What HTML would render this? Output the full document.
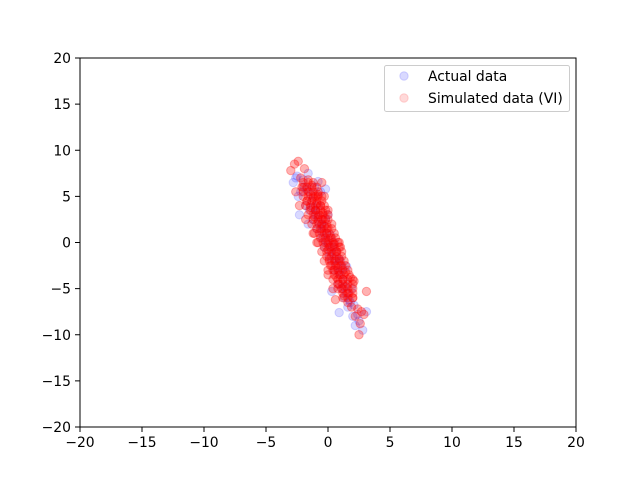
<!DOCTYPE html>
<html><head><meta charset="utf-8"><style>
body{margin:0;background:#fff;}
svg text{font-family:"DejaVu Sans","Liberation Sans",sans-serif;font-size:13.9px;fill:#000;}
</style></head><body>
<svg id="chart" width="640" height="480" viewBox="0 0 640 480" xmlns="http://www.w3.org/2000/svg">
<rect width="640" height="480" fill="#fff"/>
<g id="marks"></g>
<rect x="80" y="58" width="496" height="369" fill="none" stroke="#000" stroke-width="1"/>
<g id="axes"></g>
<g>
<rect x="384.5" y="65.5" width="185" height="46" rx="2" fill="#fff" fill-opacity="0.8" stroke="#ccc"/>
<circle cx="404" cy="76" r="4.2" fill="blue" fill-opacity="0.15" stroke="blue" stroke-opacity="0.15"/>
<text x="428" y="81">Actual data</text>
<circle cx="404" cy="98" r="4.2" fill="red" fill-opacity="0.15" stroke="red" stroke-opacity="0.15"/>
<text x="428" y="103">Simulated data (VI)</text>
</g>
</svg>
<script>
const xTicks=[-20,-15,-10,-5,0,5,10,15,20];
const yTicks=[-20,-15,-10,-5,0,5,10,15,20];
const actualX=[-2.8,-2.5,-2.2,-2.0,-1.8,-1.6,-1.5,-1.4,-1.3,-1.2,-1.1,-1.0,-0.9,-0.8,-0.7,-0.6,-0.5,-0.4,-0.3,-0.2,-0.1,0,0.1,0.2,0.3,0.4,0.5,0.6,0.7,0.8,0.9,1.0,1.1,1.2,1.3,1.4,1.5,1.6,1.8,2.0,2.2,2.5,2.8,3.1,-2.3,-1.9,-1.7,-1.2,-0.8,-0.5,-0.2,0.2,0.6,0.9,1.3,1.7,2.1,0.5,-0.5,0.0,1.0,-1.0,-2.6,2.4,
 -2.4,-0.2,0.9,1.5,-1.6,1.9,0.3,-0.8];
const actualY=[6.5,7.2,5.5,6.8,4.0,7.5,3.5,5.2,4.5,2.5,6.0,3.0,1.5,4.0,2.0,5.5,0.5,1.8,-0.5,2.5,1.0,-0.2,-1.5,0.8,-2.0,-0.5,-3.0,-1.0,-2.5,-4.5,-1.8,-3.5,-5.0,-2.8,-6.0,-4.2,-5.5,-7.0,-6.5,-8.0,-9.0,-8.5,-9.5,-7.5,3.0,6.0,5.8,3.8,2.8,1.2,0.2,-1.0,-1.8,-3.2,-4.8,-6.2,-6.8,0.0,2.0,3.0,-2.0,3.5,7.0,-7.8,
 5.0,5.8,-7.6,-2.6,2.0,-5.0,-5.3,6.6];
const simX=[-3.0,-2.7,-2.4,-2.2,-2.6,-2.0,-1.9,-1.7,-1.6,-1.5,-1.4,-1.3,-1.2,-1.1,-1.0,-1.0,-0.9,-0.8,-0.8,-0.7,-0.6,-0.6,-0.5,-0.4,-0.4,-0.3,-0.2,-0.2,-0.1,0.0,0.0,0.1,0.1,0.2,0.3,0.3,0.4,0.5,0.5,0.6,0.7,0.7,0.8,0.9,0.9,1.0,1.1,1.1,1.2,1.3,1.4,1.5,1.6,1.7,1.9,2.0,2.2,2.4,2.6,2.7,3.1,2.5,2.9,-1.8,1.8,-0.3,0.4,-1.2,1.0,-0.5,0.6,-2.3,2.1,0.0,0.0,-0.9,0.9,
 -2.1,-1.7,-1.3,-0.9,
 -2.0,-1.6,-1.2,-0.8,-0.5,
 -1.8,-1.4,-1.0,-0.6,-0.3,
 -1.6,-1.2,-0.8,-0.4,0.0,
 -1.3,-0.9,-0.5,-0.1,0.3,
 -1.1,-0.7,-0.3,0.1,0.5,
 -0.8,-0.4,0.0,0.4,0.8,
 -0.5,-0.1,0.3,0.7,1.1,
 -0.3,0.1,0.5,0.9,1.3,
 0.0,0.4,0.8,1.2,1.6,
 0.4,0.8,1.2,1.6,2.0,
 0.8,1.2,1.6,2.0,
 1.2,1.6,2.0,
 -2.0,-1.6,-1.2,
 -2.0,-1.6,-1.2,-0.8,
 -1.7,-1.3,-0.9,-0.5,
 -1.4,-1.0,-0.6,-0.2,
 -1.2,-0.8,-0.4,0.0,
 -0.9,-0.5,-0.1,0.3,
 -0.6,-0.2,0.2,0.6,
 -0.3,0.1,0.5,0.9,
 -0.1,0.3,0.7,1.1,
 0.2,0.6,1.0,1.4,
 0.5,0.9,1.3,1.7,
 0.8,1.2,1.6,2.0,
 1.2,1.6,2.0];
const simY=[7.8,8.5,8.8,7.0,5.5,6.0,8.0,4.5,6.8,5.5,3.8,6.2,4.8,2.8,5.0,3.5,4.2,2.2,5.2,3.0,1.5,4.0,2.5,0.8,3.2,1.8,0.0,2.6,1.0,-0.8,1.6,0.2,-1.8,-0.5,-2.5,0.5,-1.2,-3.0,-0.2,-2.0,-3.8,-1.0,-2.8,-4.5,-1.8,-3.5,-5.0,-2.5,-4.0,-5.8,-3.2,-4.8,-6.5,-5.5,-7.0,-6.0,-8.0,-7.2,-8.8,-7.5,-5.3,-10.0,-7.8,2.5,-3.8,5.0,-5.0,1.0,-0.5,6.5,-6.2,4.0,-4.2,3.5,-3.5,0.0,0.0,
 6,6,6,6,
 5,5,5,5,5,
 4,4,4,4,4,
 3,3,3,3,3,
 2,2,2,2,2,
 1,1,1,1,1,
 0,0,0,0,0,
 -1,-1,-1,-1,-1,
 -2,-2,-2,-2,-2,
 -3,-3,-3,-3,-3,
 -4,-4,-4,-4,-4,
 -5,-5,-5,-5,
 -6,-6,-6,
 6.5,6.5,6.5,
 5.5,5.5,5.5,5.5,
 4.5,4.5,4.5,4.5,
 3.5,3.5,3.5,3.5,
 2.5,2.5,2.5,2.5,
 1.5,1.5,1.5,1.5,
 0.5,0.5,0.5,0.5,
 -0.5,-0.5,-0.5,-0.5,
 -1.5,-1.5,-1.5,-1.5,
 -2.5,-2.5,-2.5,-2.5,
 -3.5,-3.5,-3.5,-3.5,
 -4.5,-4.5,-4.5,-4.5,
 -5.5,-5.5,-5.5];
const NS='http://www.w3.org/2000/svg';
const xs=v=>328+v*12.4;
const ys=v=>242.5-v*9.225;
const marks=document.getElementById('marks');
function dot(x,y,c,a){
  const el=document.createElementNS(NS,'circle');
  el.setAttribute('cx',xs(x));el.setAttribute('cy',ys(y));el.setAttribute('r',4.2);
  el.setAttribute('fill',c);el.setAttribute('fill-opacity',a);
  el.setAttribute('stroke',c);el.setAttribute('stroke-opacity',a);
  return el;
}
actualX.forEach((x,i)=>{const el=dot(x,actualY[i],'blue',0.15);


marks.appendChild(el);});
simX.forEach((x,i)=>{const el=dot(x,simY[i],'red',0.3);


marks.appendChild(el);});
const axes=document.getElementById('axes');
xTicks.forEach(t=>{
  const l=document.createElementNS(NS,'line');
  l.setAttribute('x1',xs(t));l.setAttribute('x2',xs(t));l.setAttribute('y1',427);l.setAttribute('y2',432);l.setAttribute('stroke','#000');
  
  
  axes.appendChild(l);
  const tx=document.createElementNS(NS,'text');
  tx.setAttribute('x',xs(t));tx.setAttribute('y',447);tx.setAttribute('text-anchor','middle');
  tx.textContent=(t<0?'\u2212'+(-t):t);
  
  
  axes.appendChild(tx);
});
yTicks.forEach(t=>{
  const l=document.createElementNS(NS,'line');
  l.setAttribute('x1',75);l.setAttribute('x2',80);l.setAttribute('y1',ys(t));l.setAttribute('y2',ys(t));l.setAttribute('stroke','#000');
  
  
  axes.appendChild(l);
  const tx=document.createElementNS(NS,'text');
  tx.setAttribute('x',71);tx.setAttribute('y',ys(t)+5);tx.setAttribute('text-anchor','end');
  tx.textContent=(t<0?'\u2212'+(-t):t);
  
  
  axes.appendChild(tx);
});
</script>
</body></html>
